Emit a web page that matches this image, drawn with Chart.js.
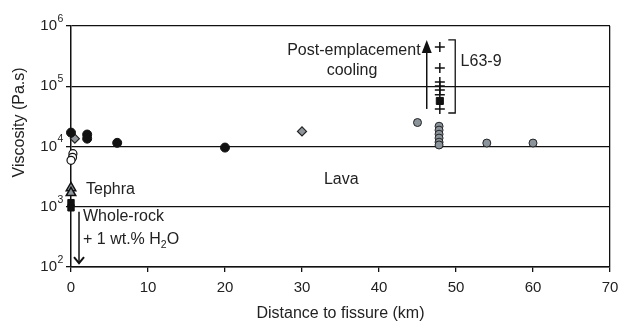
<!DOCTYPE html>
<html>
<head>
<meta charset="utf-8">
<script src="https://cdn.jsdelivr.net/npm/chart.js@4/dist/chart.umd.min.js"></script>
<style>
  body { margin: 0; background: #fff; }
  #wrap { width: 619px; height: 324px; }
</style>
</head>
<body>
<div id="wrap"><canvas id="viscChart" width="619" height="324"></canvas></div>
<script>
// Viscosity vs distance to fissure (km)
const xTicks = [0, 10, 20, 30, 40, 50, 60, 70];
const yTicks = [100, 1000, 10000, 100000, 1000000];

// lava, black circles
const blackX = [0, 2.1, 2.1, 6, 20];
const blackY = [17000, 15800, 13500, 11500, 9600];
// grey diamonds
const diamondX = [0.5, 30];
const diamondY = [13500, 17800];
// open circles
const openX = [0.25, 0.2, 0];
const openY = [7600, 6600, 5900];
// grey circles
const greyX = [45, 47.8, 47.8, 47.8, 47.8, 47.8, 47.8, 54, 60];
const greyY = [25000, 21700, 18700, 16000, 13800, 11800, 10600, 11400, 11400];
// tephra triangles
const tephraX = [0, 0];
const tephraY = [2050, 1700];
// whole-rock squares
const rockX = [0, 0];
const rockY = [1170, 960];
// L63-9 crosses + square
const crossX = [47.9, 47.9, 47.9, 47.9, 47.9, 47.9, 47.9];
const crossY = [449000, 201000, 118000, 101000, 87000, 72000, 42000];
const l63SqX = [47.9];
const l63SqY = [57000];

const pts = (xs, ys) => xs.map((v, i) => ({ x: v, y: ys[i] }));

const FONT = "'Liberation Sans', Arial, sans-serif";
const TXT = '#222';

// arrows, bracket and labels drawn on top
const annotPlugin = {
    id: 'annot',
    afterDatasetsDraw(chart) {
        const { ctx, scales: { x, y } } = chart;
        ctx.save();
        ctx.strokeStyle = '#111';
        ctx.fillStyle = '#111';

        // post-emplacement cooling arrow
        const ax = x.getPixelForValue(46.2);
        const a0 = y.getPixelForValue(42000);
        const a1 = y.getPixelForValue(587000);
        ctx.lineWidth = 1.5;
        ctx.beginPath();
        ctx.moveTo(ax, a0);
        ctx.lineTo(ax, a1 + 10);
        ctx.stroke();
        ctx.beginPath();
        ctx.moveTo(ax, a1);
        ctx.lineTo(ax - 5, a1 + 13);
        ctx.lineTo(ax + 5, a1 + 13);
        ctx.closePath();
        ctx.fill();

        // bracket for L63-9
        const bx = x.getPixelForValue(49.9);
        const bxl = x.getPixelForValue(49.0);
        const b0 = y.getPixelForValue(587000);
        const b1 = y.getPixelForValue(36000);
        ctx.lineWidth = 1.3;
        ctx.beginPath();
        ctx.moveTo(bxl, b0);
        ctx.lineTo(bx, b0);
        ctx.lineTo(bx, b1);
        ctx.lineTo(bxl, b1);
        ctx.stroke();

        // whole-rock + water arrow (down)
        const dx = x.getPixelForValue(1.04);
        const d0 = y.getPixelForValue(826);
        const d1 = y.getPixelForValue(116);
        ctx.lineWidth = 1.5;
        ctx.beginPath();
        ctx.moveTo(dx, d0);
        ctx.lineTo(dx, d1);
        ctx.stroke();
        ctx.lineWidth = 2;
        ctx.beginPath();
        ctx.moveTo(dx - 5, d1 - 6);
        ctx.lineTo(dx, d1);
        ctx.lineTo(dx + 5, d1 - 6);
        ctx.stroke();

        // labels
        ctx.fillStyle = TXT;
        ctx.font = '16px ' + FONT;
        ctx.textBaseline = 'middle';
        const label = (t, vx, vy, align) => {
            ctx.textAlign = align;
            ctx.fillText(t, x.getPixelForValue(vx), y.getPixelForValue(vy));
        };
        label('Post-emplacement', 45.4, 385000, 'right');
        label('cooling', 36.5, 180000, 'center');
        label('L63-9', 50.6, 253000, 'left');
        label('Lava', 35.1, 2790, 'center');
        label('Tephra', 1.95, 1900, 'left');
        label('Whole-rock', 1.56, 680, 'left');

        // "+ 1 wt.% H2O" with subscript
        const hx = x.getPixelForValue(1.56);
        const hy = y.getPixelForValue(284);
        ctx.textAlign = 'left';
        const part1 = '+ 1 wt.% H';
        ctx.fillText(part1, hx, hy);
        let w = ctx.measureText(part1).width;
        ctx.font = '10.5px ' + FONT;
        ctx.fillText('2', hx + w, hy + 5);
        w += ctx.measureText('2').width;
        ctx.font = '16px ' + FONT;
        ctx.fillText('O', hx + w, hy);

        ctx.restore();
    },
    afterDraw(chart) {
        const { ctx, scales: { y }, chartArea } = chart;
        ctx.save();
        ctx.fillStyle = TXT;
        ctx.textBaseline = 'middle';
        // y tick labels as powers of ten
        yTicks.forEach(v => {
            const py = y.getPixelForValue(v);
            ctx.font = '15px ' + FONT;
            ctx.textAlign = 'right';
            ctx.fillText('10', 57, py);
            ctx.font = '10.5px ' + FONT;
            ctx.textAlign = 'left';
            ctx.fillText(String(Math.round(Math.log10(v))), 57.5, py - 7);
        });
        // y axis title
        ctx.font = '16px ' + FONT;
        ctx.textAlign = 'center';
        ctx.translate(20, chartArea.top + (chartArea.bottom - chartArea.top) * 0.4);
        ctx.rotate(-Math.PI / 2);
        ctx.fillText('Viscosity (Pa.s)', 0, 0);
        ctx.restore();
    }
};

const makeSet = (data, style, radius, bg, border, bw) => ({
    data, pointStyle: style, pointRadius: radius,
    backgroundColor: bg, borderColor: border, borderWidth: bw,
    showLine: false, clip: false
});

const initViscChart = () => {
    const ctx = document.getElementById('viscChart').getContext('2d');
    return new Chart(ctx, {
        type: 'scatter',
        data: {
            datasets: [
                makeSet(pts(greyX, greyY), 'circle', 4, '#8b949b', '#222', 1),
                makeSet(pts(blackX, blackY), 'circle', 4.5, '#111', '#111', 1),
                makeSet(pts(openX, openY), 'circle', 4, '#fff', '#111', 1.2),
                makeSet(pts(diamondX, diamondY), 'rectRot', 4.5, '#8f959a', '#222', 1.2),
                makeSet(pts(tephraX, tephraY), 'triangle', 5.5, '#8e979e', '#111', 1.5),
                makeSet(pts(rockX, rockY), 'rect', 4.5, '#111', '#111', 1),
                makeSet(pts(crossX, crossY), 'cross', 5, '#111', '#111', 1.5),
                makeSet(pts(l63SqX, l63SqY), 'rect', 5, '#111', '#111', 1)
            ]
        },
        options: {
            responsive: false,
            animation: false,
            events: [],
            layout: { padding: { top: 26, right: 0, left: 0, bottom: 0 } },
            plugins: {
                legend: { display: false },
                tooltip: { enabled: false }
            },
            scales: {
                x: {
                    type: 'linear',
                    min: 0,
                    max: 70,
                    afterBuildTicks: s => { s.ticks = xTicks.map(v => ({ value: v })); },
                    afterFit: s => {
                        s.height = 57;
                        s.paddingRight = 9;
                        s.paddingLeft = 0;
                    },
                    grid: {
                        color: c => (c.tick && c.tick.value === 70 ? '#111' : 'rgba(0,0,0,0)'),
                        tickColor: '#111',
                        tickLength: 5,
                        lineWidth: 1.3
                    },
                    border: { color: '#111', width: 1.5 },
                    ticks: { color: TXT, font: { family: FONT, size: 15 }, padding: 7 },
                    title: {
                        display: true,
                        text: 'Distance to fissure (km)',
                        color: TXT,
                        font: { family: FONT, size: 16 },
                        padding: { top: 0, bottom: 1 }
                    }
                },
                y: {
                    type: 'logarithmic',
                    min: 100,
                    max: 1000000,
                    afterBuildTicks: s => { s.ticks = yTicks.map(v => ({ value: v })); },
                    afterFit: s => { s.width = 71; },
                    grid: { color: '#111', tickColor: '#111', tickLength: 5, lineWidth: 1.3 },
                    border: { color: '#111', width: 1.5 },
                    ticks: { display: false }
                }
            }
        },
        plugins: [annotPlugin]
    });
};

window.viscChart = initViscChart();
</script>
</body>
</html>
